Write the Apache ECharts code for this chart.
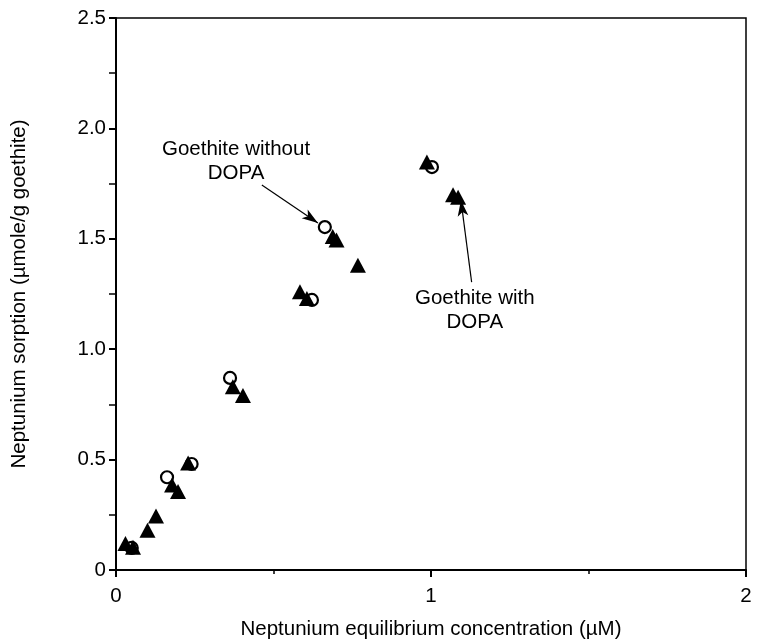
<!DOCTYPE html>
<html><head><meta charset="utf-8">
<script src="https://cdn.jsdelivr.net/npm/echarts@6/dist/echarts.min.js"></script>
<style>html,body{margin:0;padding:0;background:#fff}#c{width:757px;height:642px}</style>
</head><body><div id="c"></div>
<script>
// Goethite without DOPA (open circles): [concentration µM, sorption µmole/g]
var withoutX = [0.05, 0.162, 0.24, 0.362, 0.622, 0.663, 1.003];
var withoutY = [0.10, 0.42, 0.48, 0.87, 1.223, 1.553, 1.825];
// Goethite with DOPA (filled triangles)
var withX = [0.030, 0.054, 0.100, 0.127, 0.178, 0.197, 0.229, 0.371, 0.403, 0.584, 0.606, 0.688, 0.700, 0.768, 0.987, 1.070, 1.086];
var withY = [0.120, 0.103, 0.180, 0.245, 0.385, 0.355, 0.485, 0.830, 0.790, 1.260, 1.230, 1.510, 1.495, 1.380, 1.848, 1.700, 1.688];
var xTicks = ['0', '1', '2'];
var yTicks = ['0', '0.5', '1.0', '1.5', '2.0', '2.5'];
// annotations (data coords)
var annotWithout = {text: 'Goethite without\nDOPA', at: [0.381, 1.852], from: [0.463, 1.744], to: [0.641, 1.572]};
var annotWith = {text: 'Goethite with\nDOPA', at: [1.139, 1.178], from: [1.129, 1.304], to: [1.095, 1.675]};

function zip(a, b) { return a.map(function (v, i) { return [v, b[i]]; }); }
var FONT = 'Liberation Sans';
var FS = 20.5;
var chart = echarts.init(document.getElementById('c'), null, {renderer: 'canvas'});
function annotPoint(a) {
  return {coord: a.at, symbol: 'circle', symbolSize: 0,
    label: {show: true, position: 'inside', formatter: a.text, color: '#000', fontFamily: FONT, fontSize: FS, lineHeight: 24, align: 'center'}};
}
function annotLine(a) { return [{coord: a.from}, {coord: a.to}]; }
chart.setOption({
  animation: false,
  backgroundColor: '#fff',
  grid: {left: 116, right: 11, top: 18, bottom: 72, outerBoundsMode: 'none', containLabel: false,
    show: true, borderColor: '#000', borderWidth: 1.5, backgroundColor: 'transparent'},
  xAxis: {
    type: 'value', min: 0, max: 2, interval: 1,
    name: 'Neptunium equilibrium concentration (µM)', nameLocation: 'middle', nameGap: 49,
    nameTextStyle: {fontFamily: FONT, fontSize: FS, color: '#000'},
    axisLine: {show: true, lineStyle: {color: '#000', width: 2}},
    axisTick: {show: true, inside: false, length: 7, lineStyle: {color: '#000', width: 2}},
    minorTick: {show: true, splitNumber: 2, length: 4, lineStyle: {color: '#000', width: 1.5}},
    splitLine: {show: false},
    axisLabel: {fontFamily: FONT, fontSize: FS, color: '#000', margin: 16, formatter: function (v) { return xTicks[Math.round(v)]; }}
  },
  yAxis: {
    type: 'value', min: 0, max: 2.5, interval: 0.5,
    name: 'Neptunium sorption (µmole/g goethite)', nameLocation: 'middle', nameGap: 86, nameRotate: 90,
    nameTextStyle: {fontFamily: FONT, fontSize: FS, color: '#000'},
    axisLine: {show: true, lineStyle: {color: '#000', width: 2}},
    axisTick: {show: true, inside: false, length: 7, lineStyle: {color: '#000', width: 2}},
    minorTick: {show: true, splitNumber: 2, length: 7, lineStyle: {color: '#000', width: 1.5}},
    splitLine: {show: false},
    axisLabel: {fontFamily: FONT, fontSize: FS, color: '#000', margin: 10, formatter: function (v) { return yTicks[Math.round(v * 2)]; }}
  },
  series: [
    {
      name: 'Goethite without DOPA', type: 'scatter', data: zip(withoutX, withoutY),
      symbol: 'circle', symbolSize: 12, z: 2,
      itemStyle: {color: '#fff', borderColor: '#000', borderWidth: 2.2, opacity: 1},
      markLine: {silent: true, symbol: ['none', 'arrow'], symbolSize: [8, 16], label: {show: false},
        lineStyle: {color: '#000', width: 1.2, type: 'solid'}, emphasis: {disabled: true},
        data: [annotLine(annotWithout), annotLine(annotWith)]},
      markPoint: {silent: true, data: [annotPoint(annotWithout), annotPoint(annotWith)]}
    },
    {
      name: 'Goethite with DOPA', type: 'scatter', data: zip(withX, withY),
      symbol: 'triangle', symbolSize: [16, 15], z: 3,
      itemStyle: {color: '#000', opacity: 1}
    }
  ]
});
</script></body></html>
